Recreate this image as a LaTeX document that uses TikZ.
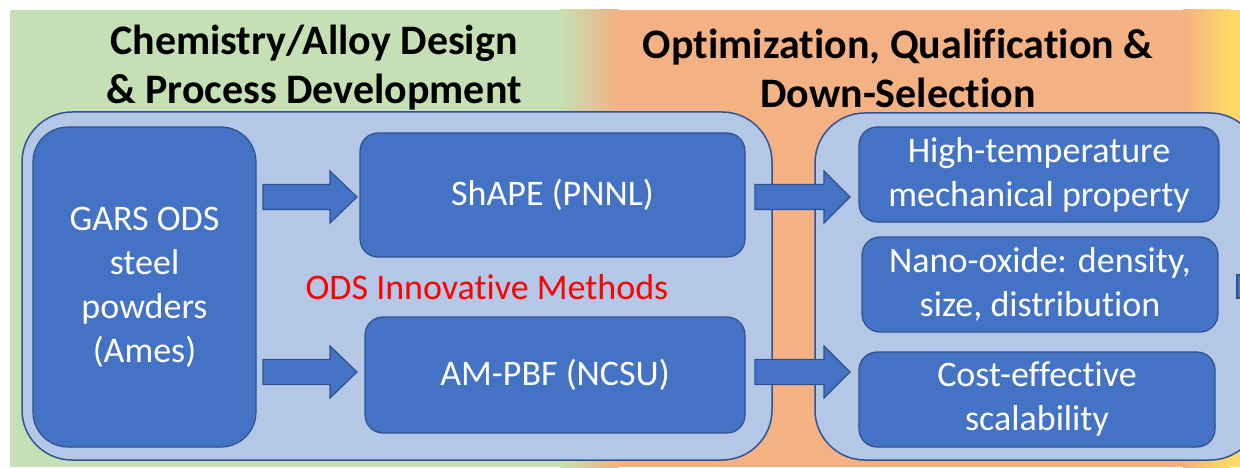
\documentclass[tikz,border=0pt]{standalone}
\usepackage{fontspec}
\setmainfont{Carlito}[Ligatures={NoCommon}]
\definecolor{bggreen}{HTML}{C5E0B4}
\definecolor{bgorange}{HTML}{F4B183}
\definecolor{bgyellow}{HTML}{FFD966}
\definecolor{contfill}{HTML}{B4C7E7}
\definecolor{contline}{HTML}{2F5597}
\definecolor{boxfill}{HTML}{4472C4}
\definecolor{boxline}{HTML}{2F528F}
\tikzset{
  container/.style={draw=contline, line width=1.5pt, fill=contfill, rounded corners=50pt, inner sep=0pt},
  bigbox/.style={draw=boxline, line width=1.2pt, fill=boxfill, rounded corners=35pt, text=white, align=center, inner sep=0pt, font=\fontsize{36}{44}\selectfont},
  smallbox/.style={draw=boxline, line width=1.2pt, fill=boxfill, rounded corners=18pt, text=white, align=center, inner sep=0pt, font=\fontsize{36}{44}\selectfont},
  titletext/.style={align=center, font=\fontsize{42}{49}\selectfont\bfseries, text=black},
  blockarrow/.style={draw=boxline, line width=1.2pt, fill=boxfill},
}
\begin{document}
\begin{tikzpicture}[x=1pt,y=-1pt]
\useasboundingbox (0,0) rectangle (1240,468);
\clip (0,0) rectangle (1240,468);
% background bands
\fill[bggreen] (10,10) rectangle (561,467);
\shade[left color=bggreen, right color=bgorange] (560,10) rectangle (618,467);
\fill[bgorange] (617,10) rectangle (1184,467);
\shade[left color=bgorange, right color=bgyellow] (1183,10) rectangle (1230,467);
\fill[bgyellow] (1229,10) rectangle (1240,467);
% titles
\node[titletext] (t1) at (314,68) {Chemistry/Alloy Design\\\& Process Development};
\node[titletext] (t2) at (898,68) {Optimization, Qualification \&\\Down-Selection};
% containers
\node[container, minimum width=750pt, minimum height=348pt] (leftc) at (397,286) {};
\node[container, minimum width=445pt, minimum height=347pt] (rightc) at (1037.5,286.5) {};
% boxes
\node[bigbox, minimum width=223pt, minimum height=320pt] (gars) at (144.5,287) {GARS ODS\\steel\\powders\\(Ames)};
\node[smallbox, minimum width=385pt, minimum height=124pt] (shape) at (552.5,195) {ShAPE (PNNL)};
\node[smallbox, minimum width=380pt, minimum height=116pt] (ampbf) at (555,375) {AM-PBF (NCSU)};
\node[text=red, font=\fontsize{36}{40}\selectfont] (ods) at (487,287) {ODS Innovative Methods};
\node[smallbox, minimum width=360pt, minimum height=95pt] (hight) at (1039,174.5) {High-temperature\\mechanical property};
\node[smallbox, minimum width=356pt, minimum height=95pt] (nano) at (1040,284.5) {Nano-oxide: density,\\size, distribution};
\node[smallbox, minimum width=356pt, minimum height=95pt] (cost) at (1037,399.5) {Cost-effective\\scalability};
% block arrows
\newcommand{\barrow}[4]{%
  \draw[blockarrow] (#1,#4-12.5) -- (#3,#4-12.5) -- (#3,#4-26) -- (#2,#4) -- (#3,#4+26) -- (#3,#4+12.5) -- (#1,#4+12.5) -- cycle;}
\barrow{263}{357}{330}{197}
\barrow{263}{357}{330}{372}
\barrow{755}{850}{824}{197}
\barrow{755}{850}{824}{372}
% clipped arrow at right edge
\draw[blockarrow] (1237,275) rectangle (1250,298);
\end{tikzpicture}
\end{document}
